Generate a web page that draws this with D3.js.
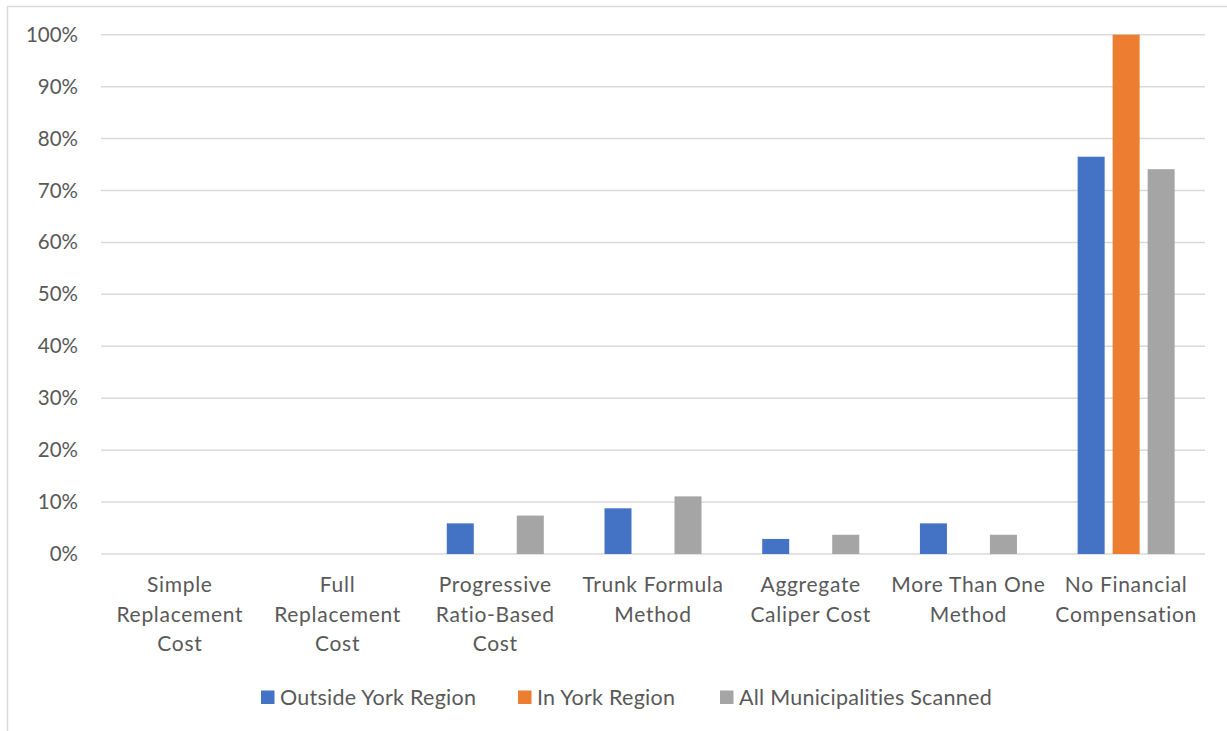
<!DOCTYPE html>
<html>
<head>
<meta charset="utf-8">
<script src="https://cdn.jsdelivr.net/npm/d3@7"></script>
<style>
  html, body { margin: 0; padding: 0; background: #ffffff; }
  svg { display: block; }
  text { font-family: Lato, "Open Sans", sans-serif; fill: #595959; }
</style>
</head>
<body>
<svg id="chart" width="1227" height="731"></svg>
<script>
// Compensation methods (x categories), each label split into lines
const categories = [
  ["Simple", "Replacement", "Cost"],
  ["Full", "Replacement", "Cost"],
  ["Progressive", "Ratio-Based", "Cost"],
  ["Trunk Formula", "Method"],
  ["Aggregate", "Caliper Cost"],
  ["More Than One", "Method"],
  ["No Financial", "Compensation"]
];
const seriesNames = ["Outside York Region", "In York Region", "All Municipalities Scanned"];
const seriesColors = ["#4472C4", "#ED7D31", "#A5A5A5"];

// Share of municipalities using each method (%)
const outsideYork = [0, 0, 5.9, 8.8, 2.9, 5.9, 76.5];
const inYork      = [0, 0, 0, 0, 0, 0, 100];
const allScanned  = [0, 0, 7.4, 11.1, 3.7, 3.7, 74.1];

const yTicks = [0, 10, 20, 30, 40, 50, 60, 70, 80, 90, 100];

const svg = d3.select("#chart");
const plot = { left: 101, right: 1205, top: 34.7, bottom: 554 };

// outer chart frame (extends past the visible page at right and bottom)
svg.append("rect")
  .attr("x", 7.5).attr("y", 6.5)
  .attr("width", 1300).attr("height", 800)
  .attr("fill", "none").attr("stroke", "#d9d9d9").attr("stroke-width", 1.5);

const catKeys = categories.map(c => c.join(" "));
const x0 = d3.scaleBand().domain(catKeys).range([plot.left, plot.right]).padding(0);
const x1 = d3.scaleBand().domain(seriesNames).range([0, x0.bandwidth()])
  .paddingInner(8 / 35).paddingOuter(0.867);
const y = d3.scaleLinear().domain([0, 100]).range([plot.bottom, plot.top]);

// horizontal gridlines
svg.append("g").selectAll("line").data(yTicks).join("line")
  .attr("x1", plot.left).attr("x2", plot.right)
  .attr("y1", d => y(d)).attr("y2", d => y(d))
  .attr("stroke", "#d9d9d9").attr("stroke-width", 1.5);

// y axis labels
const yAxis = d3.axisLeft(y).tickValues(yTicks).tickFormat(d => d + "%").tickSize(0).tickPadding(0);
const yg = svg.append("g").attr("transform", "translate(78,0)").call(yAxis);
yg.select(".domain").remove();
yg.selectAll("text").style("font-size", "20.5px").attr("fill", "#595959")
  .style("font-family", "Lato, sans-serif");

// bars
const series = [outsideYork, inYork, allScanned];
const barData = [];
catKeys.forEach((c, i) => {
  seriesNames.forEach((s, j) => {
    barData.push({ cat: c, series: s, value: series[j][i], color: seriesColors[j] });
  });
});
svg.append("g").selectAll("rect").data(barData.filter(d => d.value > 0)).join("rect")
  .attr("x", d => x0(d.cat) + x1(d.series))
  .attr("width", x1.bandwidth())
  .attr("y", d => y(d.value))
  .attr("height", d => y(0) - y(d.value))
  .attr("fill", d => d.color);

// category labels
const catG = svg.append("g");
categories.forEach((lines, i) => {
  const cx = x0(catKeys[i]) + x0.bandwidth() / 2;
  const t = catG.append("text")
    .attr("text-anchor", "middle")
    .style("font-size", "21px")
    .style("letter-spacing", "0.7px");
  lines.forEach((ln, k) => {
    t.append("tspan").attr("x", cx).attr("y", 592 + k * 29.5).text(ln);
  });
});

// legend
const legendX = [261, 518, 720];
const lg = svg.append("g");
seriesNames.forEach((s, j) => {
  lg.append("rect").attr("x", legendX[j]).attr("y", 690.5)
    .attr("width", 13.5).attr("height", 13.5).attr("fill", seriesColors[j]);
  lg.append("text").attr("x", legendX[j] + 19).attr("y", 704.5)
    .style("font-size", "21.5px").style("letter-spacing", "0.25px").text(s);
});
</script>
</body>
</html>
